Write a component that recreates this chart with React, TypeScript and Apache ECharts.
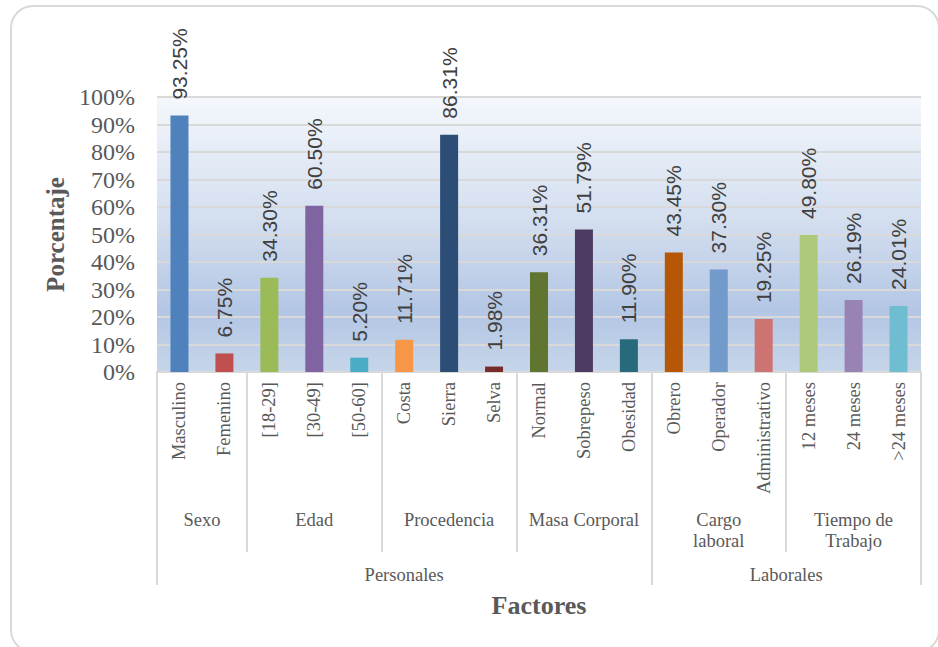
import React, { useEffect, useRef } from "react";
import * as echarts from "echarts";

// Bar categories and their percentages
const categories = [
  "Masculino", "Femenino",
  "[18-29]", "[30-49]", "[50-60]",
  "Costa", "Sierra", "Selva",
  "Normal", "Sobrepeso", "Obesidad",
  "Obrero", "Operador", "Administrativo",
  "12 meses", "24 meses", ">24 meses",
];
const values = [
  93.25, 6.75,
  34.3, 60.5, 5.2,
  11.71, 86.31, 1.98,
  36.31, 51.79, 11.9,
  43.45, 37.3, 19.25,
  49.8, 26.19, 24.01,
];
const barColors = [
  "#4f81bd", "#c0504d",
  "#9bbb59", "#8064a2", "#4bacc6",
  "#f79646", "#2c4d75", "#772c2a",
  "#5f7530", "#4d3b62", "#276a7c",
  "#b65708", "#729aca", "#cd7371",
  "#afc97a", "#9983b5", "#6fbdd1",
];

// Factor groups (second level) and their sizes in categories
const groups = ["Sexo", "Edad", "Procedencia", "Masa Corporal", "Cargo\nlaboral", "Tiempo de\nTrabajo"];
const groupSizes = [2, 3, 3, 3, 3, 3];

// Top-level groups
const superGroups = ["Personales", "Laborales"];
const superSizes = [11, 6];

const yTicks = [0, 10, 20, 30, 40, 50, 60, 70, 80, 90, 100];

const SERIF = "'Liberation Serif', 'DejaVu Serif', serif";
const SANS = "'Liberation Sans', 'DejaVu Sans', sans-serif";
const TEXT = "#595959";
const GRID_LINE = "#d9d9d9";

function edgesOf(sizes: number[]) {
  const out = [0];
  sizes.forEach((s) => out.push(out[out.length - 1] + s));
  return out;
}
function centersOf(sizes: number[]) {
  const e = edgesOf(sizes);
  return sizes.map((_, i) => (e[i] + e[i + 1]) / 2);
}
function nameAt(names: string[], centers: number[], v: number) {
  let best = 0;
  centers.forEach((c, i) => {
    if (Math.abs(c - v) < Math.abs(centers[best] - v)) best = i;
  });
  return names[best];
}

export default function App() {
  const ref = useRef<HTMLDivElement>(null);

  useEffect(() => {
    if (!ref.current) return;
    const chart = echarts.init(ref.current, null, { renderer: "svg" });
    const n = categories.length;
    const groupEdges = edgesOf(groupSizes);
    const groupCenters = centersOf(groupSizes);
    const superEdges = edgesOf(superSizes);
    const superCenters = centersOf(superSizes);

    const bg = new echarts.graphic.LinearGradient(0, 0, 0, 1, [
      { offset: 0, color: "#f4f7fc" },
      { offset: 0.45, color: "#d3deef" },
      { offset: 0.78, color: "#b3c6e4" },
      { offset: 1, color: "#c6d5e9" },
    ]);

    const option: any = {
      animation: false,
      backgroundColor: "#ffffff",
      graphic: [
        {
          type: "rect",
          shape: { x: 11, y: 6, width: 928, height: 646, r: 22 },
          style: { fill: "none", stroke: "#d9d9d9", lineWidth: 2 },
          silent: true,
          z: -10,
        },
      ],
      grid: {
        left: 157,
        top: 97,
        width: 764,
        height: 275,
        show: true,
        borderWidth: 0,
        backgroundColor: bg,
      },
      xAxis: [
        {
          type: "category",
          data: categories,
          gridIndex: 0,
          axisLine: { show: true, lineStyle: { color: GRID_LINE, width: 2 } },
          axisTick: { show: false },
          axisLabel: {
            interval: 0,
            rotate: 90,
            margin: 10,
            fontFamily: SERIF,
            fontSize: 18.5,
            color: TEXT,
          },
          name: "Factores",
          nameLocation: "middle",
          nameGap: 220,
          nameTextStyle: { fontFamily: SERIF, fontWeight: "bold", fontSize: 26, color: TEXT },
        },
        {
          type: "value",
          gridIndex: 0,
          min: 0,
          max: n,
          position: "bottom",
          axisLine: { show: false },
          splitLine: { show: false },
          axisTick: {
            show: true,
            customValues: groupEdges,
            length: 180,
            lineStyle: { color: GRID_LINE, width: 2 },
          },
          axisLabel: {
            customValues: groupCenters,
            formatter: (v: number) => nameAt(groups, groupCenters, v),
            margin: 137,
            fontFamily: SERIF,
            fontSize: 18.5,
            lineHeight: 21,
            color: TEXT,
            align: "center",
          },
        },
        {
          type: "value",
          gridIndex: 0,
          min: 0,
          max: n,
          position: "bottom",
          axisLine: { show: false },
          splitLine: { show: false },
          axisTick: {
            show: true,
            customValues: superEdges,
            length: 213,
            lineStyle: { color: GRID_LINE, width: 2 },
          },
          axisLabel: {
            customValues: superCenters,
            formatter: (v: number) => nameAt(superGroups, superCenters, v),
            margin: 193,
            fontFamily: SERIF,
            fontSize: 18.5,
            color: TEXT,
            align: "center",
          },
        },
      ],
      yAxis: {
        type: "value",
        min: yTicks[0],
        max: yTicks[yTicks.length - 1],
        interval: yTicks[1] - yTicks[0],
        axisLine: { show: false },
        axisTick: { show: false },
        splitLine: { show: true, lineStyle: { color: GRID_LINE, width: 2 } },
        axisLabel: {
          formatter: "{value}%",
          margin: 22,
          fontFamily: SERIF,
          fontSize: 24,
          color: TEXT,
        },
        name: "Porcentaje",
        nameLocation: "middle",
        nameGap: 87,
        nameTextStyle: { fontFamily: SERIF, fontWeight: "bold", fontSize: 25, color: TEXT },
      },
      series: [
        {
          type: "bar",
          xAxisIndex: 0,
          yAxisIndex: 0,
          barWidth: 18,
          data: values.map((v, i) => ({ value: v, itemStyle: { color: barColors[i] } })),
          label: {
            show: true,
            position: "top",
            rotate: 90,
            align: "left",
            verticalAlign: "middle",
            distance: 16,
            formatter: (p: any) => Number(p.value).toFixed(2) + "%",
            fontFamily: SANS,
            fontSize: 21,
            color: "#404040",
          },
        },
      ],
    };

    chart.setOption(option);
    return () => chart.dispose();
  }, []);

  return (
    <div
      ref={ref}
      style={{ position: "absolute", left: 0, top: 0, width: 938, height: 647, background: "#fff" }}
    />
  );
}
